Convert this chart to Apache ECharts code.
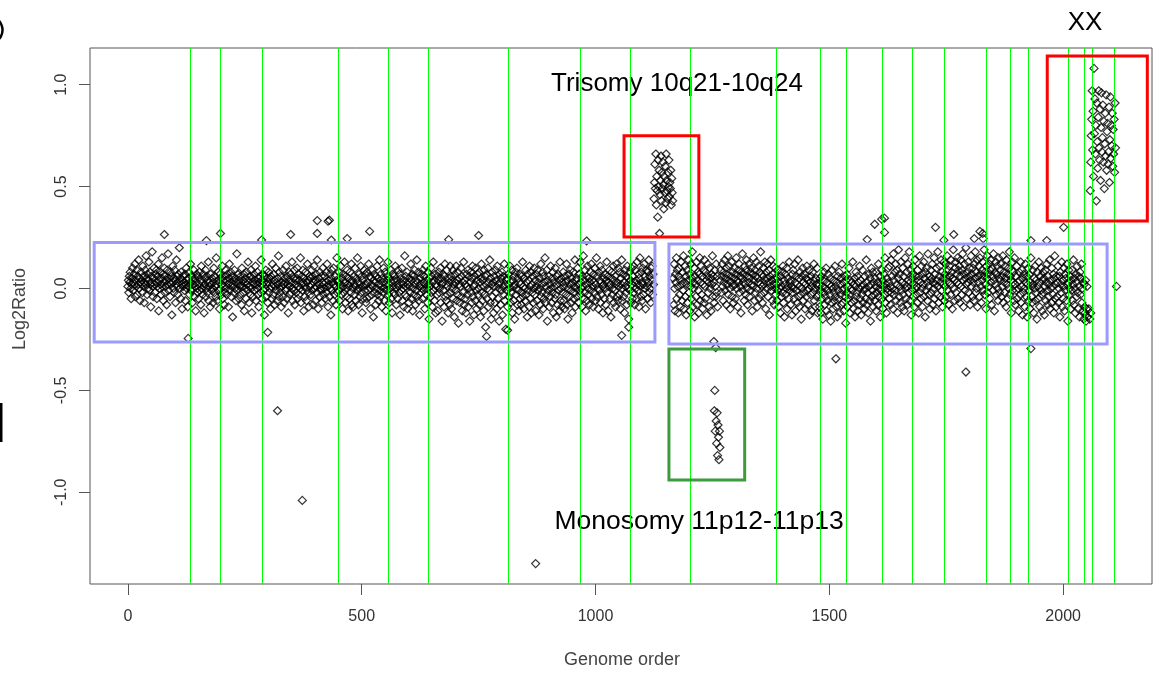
<!doctype html>
<html lang="en">
<head>
<meta charset="UTF-8">
<title>Log2Ratio by genome order</title>
<script src="https://cdn.jsdelivr.net/npm/echarts@6/dist/echarts.min.js"></script>
<style>
    html, body { margin: 0; padding: 0; background: #fff; }
    #chart { width: 1160px; height: 676px; }
</style>
</head>
<body>
<div id="chart"></div>
<script type="text/javascript">
    // log2 ratio of each clone, in hundredths, in genome order
    var bandA = [
        1,4,-2,6,3,8,0,-5,2,5, 10,3,-1,7,2,12,-4,4,1,9, -3,6,2,14,0,5,-6,3,8,2,
        4,-2,11,6,1,-7,3,9,2,16, 5,-3,7,0,4,13,-1,8,2,-9, 6,3,18,1,-4,5,10,2,-2,7,
        3,9,-5,1,6,12,-11,4,0,8, 2,-3,5,15,1,7,-6,3,10,-2, 6,1,4,-8,9,2,17,-1,5,3,
        -4,8,2,6,-13,3,11,0,5,-2, 9,4,-7,2,14,6,1,-3,7,3, 20,0,5,-5,8,2,-10,4,1,6,
        3,-1,7,-6,2,10,0,4,-9,5, 1,8,-3,3,12,-1,6,0,-7,4, 2,9,-4,5,1,-11,3,7,0,-2,
        6,-5,2,8,-1,4,-8,11,0,3, -3,7,1,-12,5,2,9,-4,0,6, -2,4,13,-6,1,3,-9,7,2,-1,
        5,0,-7,3,10,-2,6,1,-4,15, 2,-6,4,8,-1,3,-10,7,0,5, -3,2,11,-5,4,1,-8,6,-2,9,
        0,4,-3,7,2,-9,5,12,-1,3, 8,-4,1,6,-14,2,4,-2,9,0, 5,-6,3,17,-1,7,2,-5,4,1,
        -3,6,2,-8,10,1,4,-2,7,-11, 3,5,0,-5,8,2,-1,13,4,-7, 1,6,-3,9,0,-12,5,3,-4,2,
        7,-1,4,11,-6,2,0,8,-3,5, -9,3,6,1,-2,14,4,-5,2,7, -1,3,-13,6,0,9,-4,2,5,-7,
        3,8,-2,5,0,-10,6,1,-5,12, 2,-3,7,4,-8,1,10,-1,3,-6, 5,2,16,-4,8,0,-2,6,-9,3,
        1,-4,9,2,-7,5,3,-1,11,0, -5,6,2,-12,4,8,-3,1,7,-2, 3,13,-6,0,5,-1,9,-8,2,4,
        -2,5,10,-5,1,7,-3,4,0,15, -7,2,6,-1,9,3,-11,5,1,-4, 8,0,-6,3,12,-2,4,-9,6,1,
        5,-3,2,9,-1,6,-8,3,11,0, 4,-6,1,7,-2,14,3,-10,5,2, -4,8,0,-1,6,-7,3,10,-3,2,
        0,6,-5,3,8,-2,12,1,-9,4, 2,-4,7,0,-13,5,9,-1,3,-6, 10,2,-3,6,1,-8,4,15,-2,3,
        -1,4,8,-6,2,11,0,-3,5,-10, 7,1,-2,13,3,-7,6,0,-4,9, 2,-11,5,1,-5,8,3,-2,12,-8,
        4,0,-9,6,2,-3,10,1,-6,5, -1,15,3,-8,7,0,-4,2,11,-2, 6,-12,4,1,-5,9,2,-1,7,-7,
        2,-5,8,3,-1,12,-4,6,0,-10, 5,2,-3,9,1,-14,4,7,-2,3, -8,6,0,11,-3,5,-6,2,14,-1,
        -4,7,1,-9,5,3,-2,10,0,-6, 8,2,-11,4,-1,6,13,-3,2,-7, 5,0,9,-5,3,-12,7,1,-2,4,
        6,-3,11,0,-8,4,2,-5,9,1, -2,7,-13,3,5,-1,10,-6,2,0, -9,4,16,-3,6,1,-4,8,-10,2,
        3,-7,5,1,-2,12,-5,4,7,-11, 0,6,-3,9,2,-8,4,-1,14,-4, 3,8,-6,1,-13,5,2,-2,7,0,
        -5,9,3,-1,6,-10,2,11,-3,4, 0,-7,8,2,-15,5,1,-4,10,-2, 6,-9,3,13,-1,4,-6,7,-12,2,
        1,-3,6,-11,4,8,-2,0,10,-7, 5,2,-16,3,7,-1,-9,6,12,-4, 2,-6,9,-3,1,-12,5,3,-8,11,
        -2,6,-10,4,0,9,-5,2,-14,7, 3,-1,11,-6,4,-3,8,-17,2,5, -7,1,10,-4,6,-11,3,-2,13,-8,
        4,-5,2,-12,7,1,-3,9,-9,0, 6,-16,3,8,-2,-7,5,11,-4,1, -13,6,2,-6,10,-1,-10,4,7,-3,
        0,8,-8,3,-14,5,12,-2,-6,4, 1,-11,9,-3,6,-19,2,7,-5,0, 10,-9,3,-1,14,-7,5,-15,2,8,
        -4,3,-12,6,1,-7,9,-2,4,-10, 11,-5,2,0,-16,7,3,-8,5,-1, 8,-13,1,6,-3,12,-6,2,-20,4,
        -1,5,-9,2,7,-4,0,11,-7,3, -2,9,-12,4,1,-6,6,-15,2,8, -3,0,10,-8,5,-1,-11,3,7,-5,
        2,-8,6,-2,13,-4,1,-10,5,0, -6,9,-3,3,-14,7,-1,4,-9,11, 1,-5,8,-12,2,-2,6,-7,0,10,
        -3,4,-11,7,1,-6,9,-1,3,-13, 5,0,-8,12,-4,2,-2,8,-10,6, -5,3,15,-7,1,-3,9,-16,4,-1,
        6,-9,2,-4,11,0,-7,5,-2,8, -12,3,1,-5,10,-3,-14,6,2,-8, 7,-1,4,-11,13,-6,0,5,-9,3,
        -2,8,-6,1,-10,6,3,-3,12,-8, 4,-15,0,7,-4,2,9,-7,-1,5, -12,3,8,-5,1,-2,14,-9,4,0,
        5,-4,10,2,-7,7,-1,13,-3,3, 0,-9,6,1,16,-5,4,-2,9,-11, 2,6,-6,11,0,-3,5,-8,3,8,
        -1,12,-5,4,1,-9,7,3,-2,10, -6,2,15,-4,6,0,-10,8,-1,4, 11,-7,3,-3,9,1,-12,5,2,-5,
        7,0,-8,4,13,-2,6,-11,3,1, 9,-5,2,-14,5,8,-3,0,11,-7, 4,-1,6,-9,2,12,-4,3,-6,10,
        1,-3,8,-10,5,2,14,-6,0,7, -4,3,-12,9,1,-2,6,-8,11,0, 5,-15,3,8,-1,4,-7,10,2,-5,
        6,-2,11,3,-8,9,0,4,-5,13, 2,-1,7,-9,5,15,1,-4,8,3, -6,10,2,-3,12,0,6,-10,4,9,
        1,-5,8,3,14,-2,6,0,-7,10, 4,11,-3,7,2
    ];
    var trisomy = [44,52,61,49,66,41,55,48,35,63, 50,58,27,46,53,65,43,57,49,62,
        51,39,55,47,60,42,66,53,48,44, 57,50,63,45,52,49,58,41,54,47, 43];
    var bandB = [
        5,-8,12,0,-11,7,3,15,-5,9, 1,-12,6,10,-3,4,-9,13,2,-6, 8,-1,16,-10,3,11,-4,6,-13,2,
        9,-7,4,14,-2,7,-11,1,12,-5, 5,18,-9,3,0,10,-14,6,2,-4, 13,-8,4,8,-1,-12,7,15,-6,3,
        11,-3,6,-10,2,9,-7,14,1,-5, 8,4,-13,6,12,-2,3,-9,10,0, 5,-11,7,2,16,-4,6,3,-7,9,
        1,-4,12,-2,6,-9
    ];
    var monosomy = [-26,-60,-50,-70,-29,-65,-76,-61,-82,-67,-73,-84,-70,-78];
    var bandC = [
        4,9,-2,6,12,1,-6,8,3,14, -1,5,10,-8,7,2,16,-3,4,11, 0,-10,6,3,13,-4,8,1,-7,5,
        10,2,-5,7,15,0,4,-9,9,3, 12,-2,6,1,-12,8,5,17,-1,3, 7,-6,11,2,-3,9,14,0,-8,6,
        3,12,-4,5,8,-1,10,2,-11,7, 1,15,4,-6,9,-2,6,13,0,-9, 5,3,11,-5,8,2,18,-3,7,1,
        -7,6,10,2,-2,13,4,-10,8,0, 5,12,-4,3,9,-13,6,1,14,-1, 4,-6,7,11,2,-8,5,0,10,-3,
        2,-6,5,-1,9,-9,3,0,-12,6, 1,-4,8,-2,11,-7,4,-14,2,7, -3,0,10,-10,5,1,-5,13,-1,3,
        -8,4,1,-13,7,-2,9,0,-5,12, 3,-11,6,-1,2,-7,14,-4,5,-9, 1,8,-3,-15,6,0,10,-6,3,-2,
        7,-10,2,5,-4,11,-1,-8,4,0, 9,-13,3,-3,6,1,-11,8,-2,4, 12,-6,0,-9,5,2,-4,10,-12,1,
        -3,2,-9,5,-1,-12,6,-5,1,-15, 4,-2,8,-8,0,-4,10,-11,3,-6, -1,7,-13,2,-3,5,-16,1,-7,9,
        0,-10,4,-2,-6,11,-4,1,-9,3, -14,6,-1,-5,8,-12,2,-3,5,-8, 12,-1,-7,3,-11,0,6,-4,-17,4,
        -2,7,-9,1,-5,10,-3,-12,4,0, -7,3,-1,13,-10,2,-6,5,-14,1, 8,-4,-2,6,-11,3,-8,0,11,-5,
        4,-13,1,-3,9,-7,2,-1,-10,6, 0,-5,14,-8,3,-2,-12,7,1,-6, 5,-16,2,10,-4,-1,8,-9,3,-3,
        -6,5,1,-11,8,-2,3,-8,12,-4, 0,6,-14,2,-1,9,-5,4,-10,1, 7,-3,15,-7,2,-12,5,0,-2,10,
        3,-5,11,1,-8,14,-2,6,0,-10, 17,4,-3,8,-1,12,-6,2,9,-12, 5,19,-4,7,1,-7,13,-1,3,-9,
        10,-3,6,-11,2,15,0,-5,8,1, -8,12,4,-2,18,-6,3,9,-13,5, -1,7,11,-4,2,-9,14,0,6,-3,
        1,-7,9,4,-12,6,16,-2,3,-5, 11,0,-9,7,2,13,-4,5,-14,8, -1,10,3,-6,17,1,-3,6,-10,4,
        9,-2,5,12,-8,3,0,15,-5,7, 2,-11,10,4,-3,18,1,-7,6,11, -4,3,14,-1,8,-9,5,2,13,-6,
        7,1,12,-4,5,16,-1,9,3,-8, 11,6,-3,14,2,8,-10,5,19,0, 4,-6,10,13,-2,7,3,15,-5,9,
        2,11,-7,6,14,1,-3,9,17,4, -9,7,12,-1,5,20,2,-5,8,3, 13,-2,6,10,-8,4,16,1,7,-4,
        10,3,-6,12,5,18,-2,8,0,14, -9,6,3,11,-4,15,7,1,-7,9, 4,13,-1,6,19,-3,8,2,-10,11,
        5,16,-2,7,1,12,-5,9,14,3, -8,10,6,-1,17,4,-11,8,2,13, -3,7,11,0,-6,15,5,-2,9,4,
        12,-4,6,1,16,-7,8,3,-2,11, 5,-9,14,2,7,-5,10,0,18,-3, 6,4,-12,9,13,-1,3,8,-6,15,
        2,-8,6,-1,11,-5,3,0,-11,8, 4,-3,13,-7,1,9,-13,5,-2,7, 0,-9,12,3,-4,6,-14,2,10,-6,
        -1,7,-10,3,15,-4,1,-7,9,2, -12,5,0,11,-6,4,-2,-15,8,1, -5,13,3,-9,6,-1,10,-3,-11,4,
        8,-2,5,-13,1,9,-6,3,12,-1, -8,6,-4,2,14,-10,4,0,-7,10, 1,-3,7,-12,5,16,-5,2,-9,6,
        -4,3,11,-7,0,6,-14,8,2,-2, 13,-9,4,-5,1,10,-11,7,-1,5, -6,12,2,-16,3,9,-3,0,6,-10,
        4,-1,9,-6,2,14,-8,5,0,-12, 7,3,-4,11,-2,-10,6,1,-14,8, -3,5,12,-7,0,-11,3,-15,2,-9,
        -12,4,-16,-10,1,-14
    ];
    var xx = [48,62,75,83,97,68,87,55,108,76, 93,66,80,43,91,72,59,84,97,69,
        63,88,53,79,96,67,74,90,62,82, 49,71,86,65,95,58,77,81,61,67,
        89,52,73,94,64,80,70,86,60,78, 66,83,57,91,69];
    // first genome order of each block above
    var segStart = [0, 1125, 1166, 1253, 1267, 2058];

    // single clones away from the bands: [genome order, log2 ratio]
    var outliers = [
        [78, 0.265], [168, 0.235], [198, 0.27], [286, 0.238], [348, 0.265], [405, 0.333],
        [428, 0.33], [431, 0.335], [405, 0.27], [435, 0.238], [469, 0.245], [517, 0.28],
        [686, 0.24], [750, 0.26], [981, 0.233], [1581, 0.24], [1597, 0.315], [1612, 0.34],
        [1618, 0.345], [1618, 0.275], [1727, 0.30], [1745, 0.237], [1766, 0.265], [1822, 0.28],
        [1828, 0.27], [1810, 0.245], [1829, 0.245], [1931, 0.235], [1965, 0.235], [2001, 0.30],
        [129, -0.245], [299, -0.215], [320, -0.6], [373, -1.04], [767, -0.235], [812, -0.205],
        [872, -1.35], [1056, -0.23], [1071, -0.19], [1514, -0.345], [1792, -0.41], [1931, -0.295],
        [2055, -0.10], [2057, -0.15], [2059, -0.12], [2114, 0.01]
    ];

    // chromosome boundaries (genome order)
    var chromBreaks = [134, 198, 286, 450, 557, 643, 812, 966, 1073, 1200, 1385, 1479,
        1537, 1614, 1678, 1744, 1834, 1885, 1924, 2010, 2044, 2061, 2110];

    var xTicks = [0, 500, 1000, 1500, 2000];
    var yTicks = [-1, -0.5, 0, 0.5, 1];

    // highlighted regions: [x from, y top, x to, y bottom]
    var boxes = [
        [-72, 0.226, 1127, -0.262],
        [1157, 0.218, 2094, -0.272],
        [1061, 0.75, 1221, 0.253],
        [1157, -0.297, 1319, -0.94],
        [1966, 1.141, 2180, 0.331]
    ];
    var boxColors = ['#9b9bff', '#9b9bff', '#ff0000', '#3d9a3d', '#ff0000'];

    // build point list
    var points = [];
    [bandA, trisomy, bandB, monosomy, bandC, xx].forEach(function (arr, k) {
        arr.forEach(function (v, i) {
            points.push([segStart[k] + i, v / 100]);
        });
    });
    outliers.forEach(function (p) { points.push(p); });

    var labelFont = 'Liberation Sans, Arial, sans-serif';
    var myChart = echarts.init(document.getElementById('chart'));
    var option = {
        animation: false,
        backgroundColor: '#fff',
        grid: {
            left: 90, top: 48, right: 8, bottom: 92,
            show: true, borderColor: '#555', borderWidth: 1,
            outerBoundsMode: 'none'
        },
        xAxis: {
            type: 'value', min: -81, max: 2190,
            axisLine: { show: false, onZero: false },
            splitLine: { show: false },
            axisTick: { show: true, length: 11, customValues: xTicks, lineStyle: { color: '#555' } },
            axisLabel: {
                customValues: xTicks, margin: 25, color: '#333', fontSize: 16,
                fontFamily: labelFont,
                formatter: function (v) { return String(v); }
            }
        },
        yAxis: {
            type: 'value', min: -1.45, max: 1.18,
            axisLine: { show: false, onZero: false },
            splitLine: { show: false },
            axisTick: { show: true, length: 11, customValues: yTicks, lineStyle: { color: '#555' } },
            axisLabel: {
                customValues: yTicks, margin: 20, rotate: 90, color: '#333', fontSize: 16,
                fontFamily: labelFont,
                formatter: function (v) { return v.toFixed(1); }
            }
        },
        series: [{
            // chromosome boundaries, one pixel wide
            type: 'custom',
            data: chromBreaks.map(function (b) { return [b, 0]; }),
            silent: true,
            z: 3,
            renderItem: function (params, api) {
                var cs = params.coordSys;
                var px = Math.round(api.coord([api.value(0), 0])[0] / 2) * 2;
                return {
                    type: 'rect',
                    shape: { x: px, y: cs.y, width: 1, height: cs.height },
                    style: { fill: '#00ff00' }
                };
            }
        }, {
            type: 'scatter',
            data: points,
            symbol: 'diamond',
            symbolSize: 8,
            large: false,
            progressive: 0,
            itemStyle: { color: 'rgba(0,0,0,0)', borderColor: '#000', borderWidth: 1.2 },
            z: 2,
            markArea: {
                silent: true,
                z: 4,
                data: boxes.map(function (b, i) {
                    return [
                        { xAxis: b[0], yAxis: b[1],
                          itemStyle: { color: 'rgba(0,0,0,0)', borderColor: boxColors[i], borderWidth: 3 } },
                        { xAxis: b[2], yAxis: b[3] }
                    ];
                })
            }
        }],
        graphic: [
            { type: 'text', x: 677, y: 84, style: { text: 'Trisomy 10q21-10q24', fill: '#000',
                font: '26px "Liberation Sans", Arial, sans-serif', textAlign: 'center', textVerticalAlign: 'middle' } },
            { type: 'text', x: 699, y: 522, style: { text: 'Monosomy 11p12-11p13', fill: '#000',
                font: '26.5px "Liberation Sans", Arial, sans-serif', textAlign: 'center', textVerticalAlign: 'middle' } },
            { type: 'text', x: 1085, y: 23, style: { text: 'XX', fill: '#000',
                font: '26px "Liberation Sans", Arial, sans-serif', textAlign: 'center', textVerticalAlign: 'middle' } },
            { type: 'text', x: 622, y: 660, style: { text: 'Genome order', fill: '#444',
                font: '18px "Liberation Sans", Arial, sans-serif', textAlign: 'center', textVerticalAlign: 'middle' } },
            { type: 'text', x: 20, y: 309, rotation: Math.PI / 2, style: { text: 'Log2Ratio', fill: '#444',
                font: '18px "Liberation Sans", Arial, sans-serif', textAlign: 'center', textVerticalAlign: 'middle' } },
            // cut-off glyphs at the left edge
            { type: 'arc', shape: { cx: -11, cy: 30, r: 13.5, startAngle: -1.1, endAngle: 1.1 },
              style: { stroke: '#000', lineWidth: 2.5, fill: null } },
            { type: 'rect', shape: { x: 0, y: 403, width: 2.5, height: 39 }, style: { fill: '#000' } }
        ]
    };
    myChart.setOption(option);
</script>
</body>
</html>
